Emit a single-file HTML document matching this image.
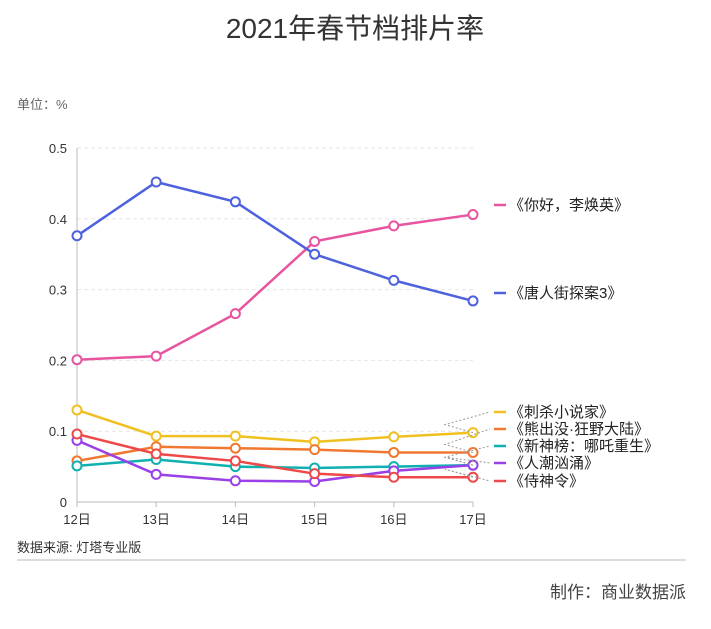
<!DOCTYPE html>
<html><head><meta charset="utf-8"><style>
body{margin:0;background:#fff;width:711px;height:624px;overflow:hidden;font-family:"Liberation Sans","Noto Sans CJK SC",sans-serif}
</style></head><body>
<svg width="711" height="624" font-family="Liberation Sans, Noto Sans CJK SC, sans-serif">
<text x="355" y="38" text-anchor="middle" font-size="28" fill="#333">2021年春节档排片率</text>
<text x="17" y="109" font-size="13" fill="#666">单位：%</text>
<g id="grid"></g><g id="axes"></g><g id="series"></g><g id="legend"></g>
<text x="17" y="552" font-size="13" fill="#333">数据来源: 灯塔专业版</text>
<line x1="17" y1="560" x2="686" y2="560" stroke="#ddd" stroke-width="2"/>
<text x="686" y="598" text-anchor="end" font-size="17" fill="#444">制作：商业数据派</text>
</svg>
<script>
const categories=["12日","13日","14日","15日","16日","17日"];
const yTicks=[0,0.1,0.2,0.3,0.4,0.5];
const seriesNames=["《你好，李焕英》","《唐人街探案3》","《刺杀小说家》","《熊出没·狂野大陆》","《新神榜：哪吒重生》","《人潮汹涌》","《侍神令》"];
const sHello=[0.201,0.206,0.266,0.368,0.390,0.406];
const sTang=[0.376,0.452,0.424,0.350,0.313,0.284];
const sCisha=[0.130,0.093,0.093,0.085,0.092,0.098];
const sXiong=[0.058,0.078,0.076,0.074,0.070,0.070];
const sNezha=[0.051,0.060,0.050,0.048,0.050,0.052];
const sRenchao=[0.087,0.039,0.030,0.029,0.044,0.052];
const sShishen=[0.096,0.068,0.058,0.040,0.035,0.035];
const colors=["#e8559f","#4e62dc","#f0c020","#f07830","#10b0b0","#9a40e8","#ee4848"];
const allSeries=[sHello,sTang,sCisha,sXiong,sNezha,sRenchao,sShishen];
const legendY=[205,293,412,429,446,463,481];
const NS="http://www.w3.org/2000/svg";
const x=i=>77+i*79.2, y=v=>502-v*708;
function mk(t,a,p){const e=document.createElementNS(NS,t);for(const k in a)e.setAttribute(k,a[k]);p.appendChild(e);return e;}
const G=document.getElementById('grid'),A=document.getElementById('axes'),S=document.getElementById('series'),L=document.getElementById('legend');
yTicks.forEach(v=>{
 if(v>0){const g=mk('line',{x1:77,x2:473,y1:y(v),y2:y(v),stroke:'#e6e6e6','stroke-dasharray':'4 3'},G);
 
 }
 const t=mk('text',{x:67,y:y(v)+5,'text-anchor':'end','font-size':13,fill:'#333'},A);t.textContent=v;
 
 
});
const ax=mk('line',{x1:77,x2:77,y1:148,y2:502,stroke:'#bbb'},A);


const xa=mk('line',{x1:77,x2:473,y1:502,y2:502,stroke:'#bbb'},A);


categories.forEach((c,i)=>{
 mk('line',{x1:x(i),x2:x(i),y1:502,y2:507,stroke:'#bbb'},A);
 const t=mk('text',{x:x(i),y:524,'text-anchor':'middle','font-size':13,fill:'#333'},A);t.textContent=c;
 
 
});
allSeries.forEach((s,k)=>{
 const g=mk('g',{},S);
 
 
 mk('polyline',{points:s.map((v,i)=>x(i)+','+y(v)).join(' '),fill:'none',stroke:colors[k],'stroke-width':2.5},g);
 s.forEach((v,i)=>{const c=mk('circle',{cx:x(i),cy:y(v),r:4.5,fill:'#fff',stroke:colors[k],'stroke-width':2},g);
 
 });
 const ly=legendY[k];
 if(k>=2) mk('polyline',{points:x(5)+','+y(s[5])+' 445,'+(y(s[5])-8)+' 490,'+ly,fill:'none',stroke:'#999','stroke-dasharray':'2 2'},L);
 const le=mk('g',{},L);
 
 
 mk('line',{x1:494,x2:506,y1:ly,y2:ly,stroke:colors[k],'stroke-width':2.5},le);
 const t=mk('text',{x:509,y:ly+5,'font-size':15,fill:'#222'},le);t.textContent=seriesNames[k];
});
</script>
</body></html>
